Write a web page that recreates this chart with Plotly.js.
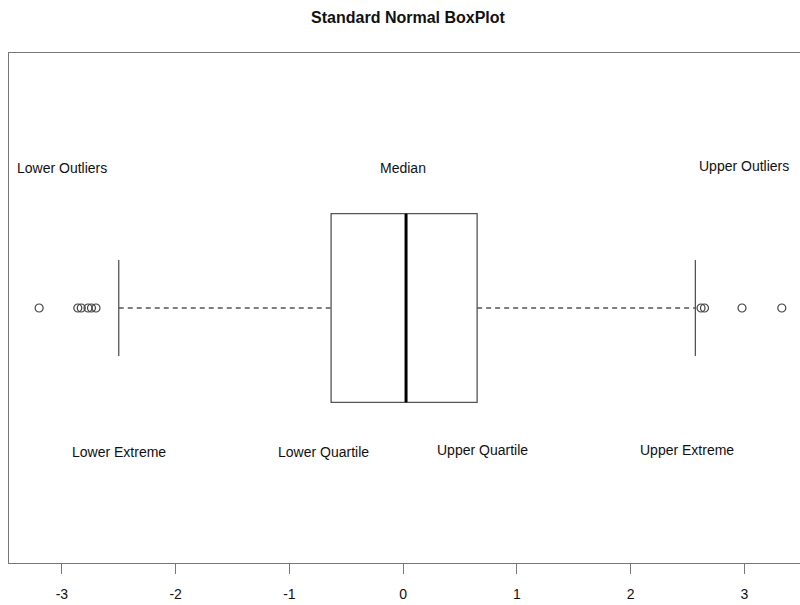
<!DOCTYPE html>
<html>
<head>
<meta charset="utf-8">
<script src="https://cdn.plot.ly/plotly-3.0.1.min.js"></script>
<style>html,body{margin:0;padding:0;background:#fff;}#chart{width:800px;height:605px;}</style>
</head>
<body>
<div id="chart"></div>
<script>
// Summary statistics
var q1 = -0.633;
var median = 0.026;
var q3 = 0.651;
var lowerExtreme = -2.50;
var upperExtreme = 2.57;
var lowerOutliers = [-3.20, -2.86, -2.83, -2.77, -2.74, -2.70];
var upperOutliers = [2.62, 2.65, 2.98, 3.33];
var labelTexts = ["Lower Outliers", "Median", "Upper Outliers", "Lower Extreme", "Lower Quartile", "Upper Quartile", "Upper Extreme"];
var labelX = [-3.0, 0.0, 3.0, -2.5, -0.7, 0.7, 2.5];
var labelY = [0.55, 0.55, 0.555, -0.565, -0.565, -0.557, -0.557];
var tickVals = [-3, -2, -1, 0, 1, 2, 3];

var boxHalf = 0.37, capHalf = 0.188;
var lineCol = '#555';
var FONT = '"Liberation Sans Narrow", "Liberation Sans", Arial, sans-serif';

var traces = [
  { type: 'box', orientation: 'h', y: [0], q1: [q1], median: [median], q3: [q3],
    lowerfence: [q1], upperfence: [q3], width: boxHalf * 2, whiskerwidth: 0,
    fillcolor: 'rgba(255,255,255,0)', line: { color: lineCol, width: 1.3 },
    boxpoints: false, hoverinfo: 'skip', showlegend: false },
  { type: 'scatter', mode: 'lines', x: [median, median], y: [-boxHalf, boxHalf],
    line: { color: '#000', width: 3 }, showlegend: false, hoverinfo: 'skip' },
  { type: 'scatter', mode: 'lines', x: [lowerExtreme, q1, null, q3, upperExtreme], y: [0, 0, null, 0, 0],
    line: { color: lineCol, width: 1.3, dash: '5px,4px' }, showlegend: false, hoverinfo: 'skip' },
  { type: 'scatter', mode: 'lines', x: [lowerExtreme, lowerExtreme, null, upperExtreme, upperExtreme],
    y: [-capHalf, capHalf, null, -capHalf, capHalf],
    line: { color: lineCol, width: 1.3 }, showlegend: false, hoverinfo: 'skip' },
  { type: 'scatter', mode: 'markers', x: lowerOutliers.concat(upperOutliers),
    y: lowerOutliers.concat(upperOutliers).map(function(){ return 0; }),
    marker: { symbol: 'circle-open', size: 8, color: '#444', line: { width: 1.2, color: '#444' } },
    showlegend: false, hoverinfo: 'skip' }
];

var annotations = labelTexts.map(function (t, i) {
  return { x: labelX[i], y: labelY[i], xref: 'x', yref: 'y', text: t, showarrow: false,
           font: { family: FONT, size: 14, color: '#111' } };
});

var layout = {
  width: 800, height: 605,
  margin: { l: 9, r: 0, t: 53, b: 42 },
  paper_bgcolor: '#fff', plot_bgcolor: '#fff',
  title: { text: '<b>Standard Normal BoxPlot</b>', x: 0.51, xanchor: 'center', y: 0.972, yanchor: 'middle',
           font: { family: FONT, size: 16, color: '#111' } },
  xaxis: { range: [-3.465, 3.49], tickvals: tickVals, ticktext: tickVals.map(String),
           showgrid: false, zeroline: false, showline: true, mirror: true, linecolor: '#777', linewidth: 1.3,
           ticks: 'outside', ticklen: 10, tickcolor: '#777', tickwidth: 1, ticklabelstandoff: 8,
           tickfont: { family: FONT, size: 14, color: '#111' } },
  yaxis: { range: [-1, 1], showgrid: false, zeroline: false, showticklabels: false,
           showline: true, mirror: false, linecolor: '#777', linewidth: 1.3, ticks: '' },
  annotations: annotations,
  showlegend: false
};

Plotly.newPlot('chart', traces, layout, { displayModeBar: false, staticPlot: true });
</script>
</body>
</html>
